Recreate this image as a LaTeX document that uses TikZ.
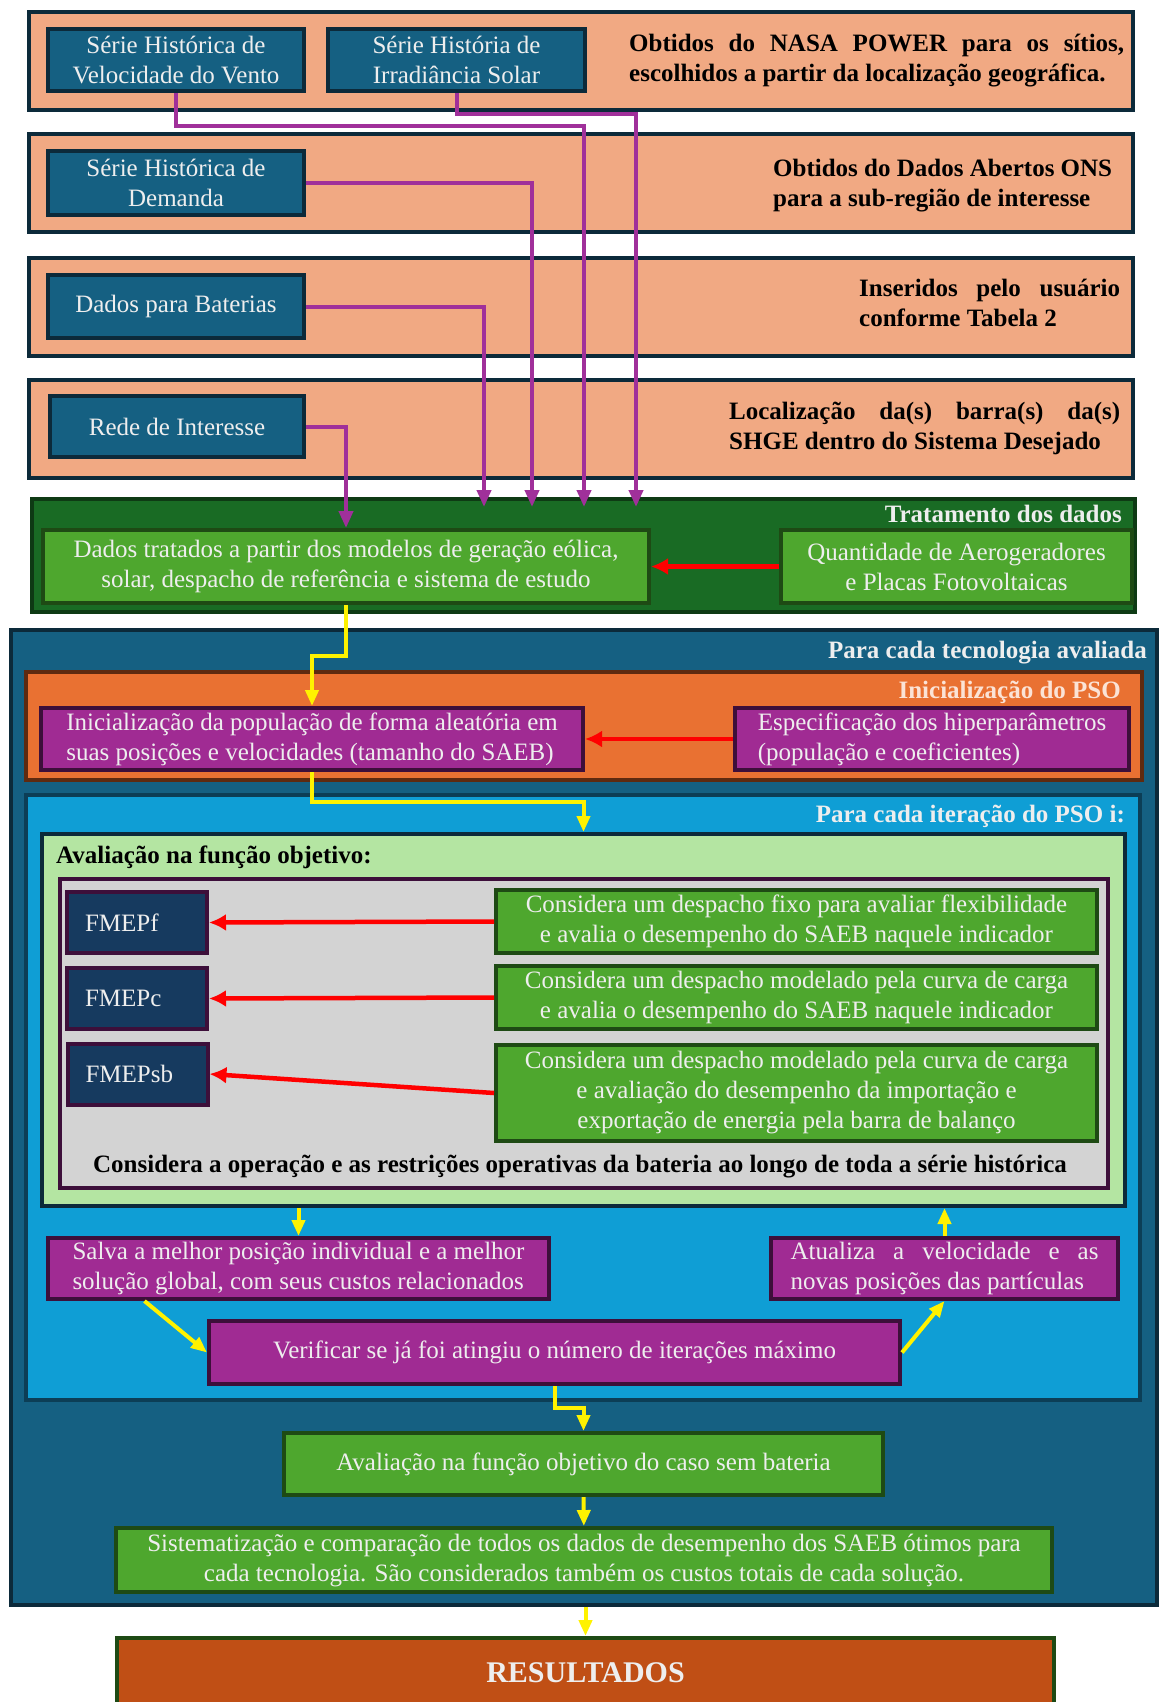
\documentclass[tikz,border=0pt]{standalone}
\usepackage{fontspec}
\setmainfont{Liberation Serif}
\usepackage{tikz}
\usetikzlibrary{arrows.meta,positioning}
\definecolor{pessego}{HTML}{F1A983}
\definecolor{contorno}{HTML}{0C2A3A}
\definecolor{azul}{HTML}{156082}
\definecolor{verdeesc}{HTML}{196B24}
\definecolor{verdetrat}{HTML}{0E3A14}
\definecolor{verde}{HTML}{4EA72E}
\definecolor{verdeborda}{HTML}{1E4A14}
\definecolor{laranja}{HTML}{E97132}
\definecolor{laranjaborda}{HTML}{5E2A10}
\definecolor{roxo}{HTML}{A02B93}
\definecolor{roxoborda}{HTML}{3D0F3A}
\definecolor{celeste}{HTML}{0F9ED5}
\definecolor{celesteborda}{HTML}{0C3E56}
\definecolor{verdeclaro}{HTML}{B4E5A2}
\definecolor{cinza}{HTML}{D3D3D3}
\definecolor{marinho}{HTML}{163A5F}
\definecolor{telha}{HTML}{C04F15}
\definecolor{claro}{HTML}{EEEEEE}
\definecolor{pele}{HTML}{FBE3D6}
\definecolor{violeta}{HTML}{A0309A}

\begin{document}
\begin{tikzpicture}[x=1pt,y=-1pt,
            font=\fontsize{25}{30}\selectfont,
            faixa/.style={draw=contorno,line width=4pt,fill=pessego,minimum width=1104pt,minimum height=98pt},
            serie/.style={draw=contorno,line width=4pt,fill=azul,text=claro,align=center,minimum width=256pt,minimum height=62pt},
            fonte/.style={anchor=west,inner sep=0pt,align=left,font=\fontsize{25}{30}\selectfont\bfseries},
            titulo/.style={anchor=east,inner sep=0pt,text=claro,font=\fontsize{25}{30}\selectfont\bfseries},
            verdebox/.style={draw=verdeborda,line width=4pt,fill=verde,text=claro,align=center},
            roxobox/.style={draw=roxoborda,line width=4pt,fill=roxo,text=claro,align=left},
            fmep/.style={draw=roxoborda,line width=4pt,fill=marinho,text=claro,align=left,text width=104pt,inner xsep=18pt,minimum height=61pt},
            setaroxa/.style={color=violeta,line width=4pt,-{Triangle[length=17pt,width=14pt]}},
            setaverm/.style={color=red,line width=4.5pt,-{Latex[length=17pt,width=17pt]}},
            setaamar/.style={color=yellow,line width=4pt,-{Triangle[length=16pt,width=13pt]}}]
            \fill[white] (0,0) rectangle (1160,1702);
            \useasboundingbox (0,0) rectangle (1160,1702);
            % entradas
            \node[faixa] (f1) at (581,61) {};
            \node[faixa] (f2) at (581,183) {};
            \node[faixa] (f3) at (581,307) {};
            \node[faixa] (f4) at (581,429) {};
            \node[serie] (vento) at (176,60) {Série Histórica de\\Velocidade do Vento};
            \node[serie,minimum width=257pt] (irrad) at (456.5,60) {Série História de\\Irradiância Solar};
            \node[serie,minimum height=64pt] (demanda) at (176,183) {Série Histórica de\\Demanda};
            \node[serie,minimum height=63pt] (baterias) at (176,306.5) {Dados para Baterias};
            \node[serie,minimum width=254pt,minimum height=61pt] (rede) at (177,426.5) {Rede de Interesse};
            \node[fonte] (nasa) at (629,61) {\makebox[495pt][s]{Obtidos do NASA POWER para os sítios,}\\escolhidos a partir da localização geográfica.};
            \node[fonte] (ons) at (773,186) {Obtidos do Dados Abertos ONS\\para a sub-região de interesse};
            \node[fonte] (usuario) at (859,303) {\makebox[261pt][s]{Inseridos pelo usuário}\\conforme Tabela 2};
            \node[fonte] (local) at (729,428) {\makebox[391pt][s]{Localização da(s) barra(s) da(s)}\\SHGE dentro do Sistema Desejado};
            % tratamento
            \node[draw=verdetrat,line width=4pt,fill=verdeesc,minimum width=1103pt,minimum height=113pt] (trat) at (583.5,555.5) {};
            \node[titulo] (ttrat) at (1122,514) {Tratamento dos dados};
            \node[verdebox,minimum width=606pt,minimum height=73pt] (tratados) at (346,566.5) {Dados tratados a partir dos modelos de geração eólica,\\solar, despacho de referência e sistema de estudo};
            \node[verdebox,minimum width=351pt,minimum height=73pt] (quant) at (956.5,566.5) {Quantidade de Aerogeradores\\e Placas Fotovoltaicas};
            % tecnologias e PSO
            \node[draw=contorno,line width=4pt,fill=azul,minimum width=1146pt,minimum height=975pt] (tec) at (584,1117.5) {};
            \node[titulo] (ttec) at (1147,653) {Para cada tecnologia avaliada};
            \node[draw=laranjaborda,line width=4pt,fill=laranja,minimum width=1116pt,minimum height=108pt] (ini) at (584,726) {};
            \node[titulo,text=pele] (tini) at (1121,692) {Inicialização do PSO};
            \node[roxobox,minimum width=542pt,minimum height=62pt] (popul) at (312,739) {Inicialização da população de forma aleatória em\\suas posições e velocidades (tamanho do SAEB)};
            \node[roxobox,minimum width=394pt,minimum height=62pt] (hiper) at (932,739) {Especificação dos hiperparâmetros\\(população e coeficientes)};
            \node[draw=celesteborda,line width=4pt,fill=celeste,minimum width=1114pt,minimum height=605pt] (iter) at (583,1097.5) {};
            \node[titulo] (titer) at (1125,816) {Para cada iteração do PSO i:};
            \node[draw=contorno,line width=4pt,fill=verdeclaro,minimum width=1083pt,minimum height=372pt] (aval) at (583.5,1020) {};
            \node[fonte] (taval) at (56,857) {Avaliação na função objetivo:};
            \node[draw=roxoborda,line width=4pt,fill=cinza,minimum width=1048pt,minimum height=309pt] (restr) at (584,1033.5) {};
            \node[fmep] (fmepf) at (137,922.5) {FMEPf};
            \node[fmep] (fmepc) at (137,998.5) {FMEPc};
            \node[fmep] (fmepsb) at (137.5,1074) {FMEPsb};
            \node[verdebox,minimum width=601pt,minimum height=63pt] (desp1) at (796.5,921.5) {Considera um despacho fixo para avaliar flexibilidade\\e avalia o desempenho do SAEB naquele indicador};
            \node[verdebox,minimum width=601pt,minimum height=63pt] (desp2) at (796.5,997.5) {Considera um despacho modelado pela curva de carga\\e avalia o desempenho do SAEB naquele indicador};
            \node[verdebox,minimum width=601pt,minimum height=96pt] (desp3) at (796.5,1093) {Considera um despacho modelado pela curva de carga\\e avaliação do desempenho da importação e\\exportação de energia pela barra de balanço};
            \node[inner sep=0pt,font=\fontsize{25}{30}\selectfont\bfseries] (bateria) at (580,1167) {Considera a operação e as restrições operativas da bateria ao longo de toda a série histórica};
            \node[roxobox,minimum width=501pt,minimum height=61pt] (salva) at (298.5,1268.5) {Salva a melhor posição individual e a melhor\\solução global, com seus custos relacionados};
            \node[roxobox,minimum width=347pt,minimum height=61pt] (atual) at (944.5,1268.5) {\makebox[308pt][s]{Atualiza a velocidade e as}\\novas posições das partículas};
            \node[roxobox,align=center,minimum width=691pt,minimum height=63pt] (verif) at (554.5,1352.5) {Verificar se já foi atingiu o número de iterações máximo};
            \node[verdebox,minimum width=599pt,minimum height=62pt] (sembat) at (583.5,1464) {Avaliação na função objetivo do caso sem bateria};
            \node[verdebox,minimum width=936pt,minimum height=64pt] (sistem) at (584,1560) {Sistematização e comparação de todos os dados de desempenho dos SAEB ótimos para\\cada tecnologia. São considerados também os custos totais de cada solução.};
            \node[draw=verdeborda,line width=4pt,fill=telha,text=claro,minimum width=937pt,minimum height=70pt,font=\fontsize{30}{36}\selectfont\bfseries] (result) at (585.5,1673) {RESULTADOS};
            % ligacoes
            \coordinate (cv) at (584,507);
            \coordinate (ci) at (636,507);
            \coordinate (cd) at (532,507);
            \coordinate (cb) at (484,507);
            \draw[setaroxa] (vento.south) -- ++(0,33) -| (cv);
            \draw[setaroxa] (irrad.south) -- ++(0,21) -| (ci);
            \draw[setaroxa] (demanda.east) -| (cd);
            \draw[setaroxa] (baterias.east) -| (cb);
            \draw[setaroxa] (rede.east) -| (tratados.north);
            \path[setaverm]
            (quant)       edge (tratados)
            (hiper)       edge (popul)
            (desp1.west)  edge (fmepf.east)
            (desp2.west)  edge (fmepc.east)
            (desp3.west)  edge (fmepsb.east)
            ;
            \draw[setaamar] (tratados.south) -- ++(0,51) -| (popul.north);
            \draw[setaamar] (popul.south) -- ++(0,30) -| (aval.north);
            \draw[setaamar] (verif.south) -- ++(0,22) -| (sembat.north);
            \path[setaamar]
            (aval.south -| salva.north)   edge (salva.north)
            (atual.north)                 edge (aval.south -| atual.north)
            ([xshift=-154pt]salva.south)  edge (verif.west)
            (verif.east)                  edge (atual.south)
            (sembat)                      edge (sistem)
            (tec.south -| result.north)   edge (result.north)
            ;
\end{tikzpicture}
\end{document}
